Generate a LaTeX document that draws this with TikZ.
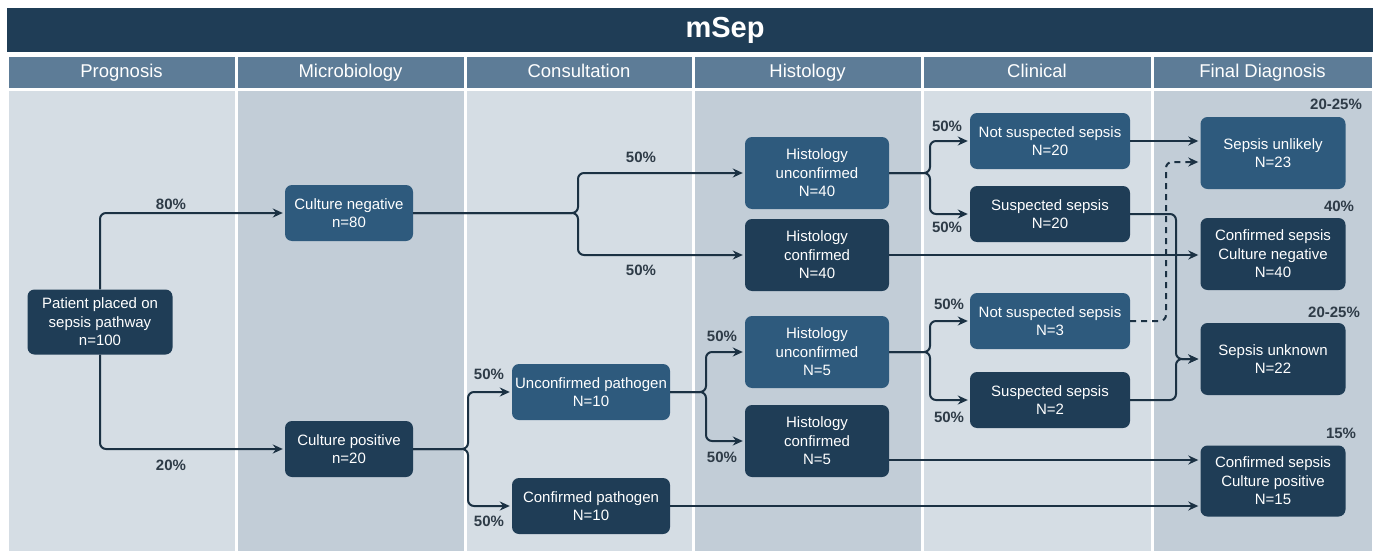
\documentclass[tikz,border=0pt]{standalone}
\usepackage{fontspec}
\setmainfont{Liberation Sans}
\usetikzlibrary{arrows.meta}
\definecolor{navy}{HTML}{1F3D56}
\definecolor{midblue}{HTML}{2E5A7D}
\definecolor{hdr}{HTML}{5D7C97}
\definecolor{bglight}{HTML}{D5DDE4}
\definecolor{bgdark}{HTML}{C2CDD7}
\definecolor{linec}{HTML}{1B3143}
\definecolor{pct}{HTML}{2E3B47}
\begin{document}
\begin{tikzpicture}[x=1pt,y=-1pt,
  box/.style={rounded corners=7pt, align=center, text=white, font=\fontsize{15}{18.5}\selectfont, inner sep=0pt},
  dbox/.style={box, fill=navy},
  mbox/.style={box, fill=midblue},
  clin/.style={minimum width=160pt, minimum height=56pt},
  hist/.style={minimum width=144pt, minimum height=72pt},
  fin/.style={minimum width=145pt, minimum height=72pt},
  arr/.style={draw=linec, line width=2pt, rounded corners=6pt, shorten >=2pt, -{Stealth[length=10pt,width=9pt]}},
  pctl/.style={text=pct, font=\bfseries\fontsize{15}{18}\selectfont, inner sep=0pt},
  colhead/.style={text=white, font=\fontsize{18.5}{22}\selectfont, inner sep=0pt, text height=13.5pt, text depth=4pt},
]
\useasboundingbox (0,0) rectangle (1384,551);
\fill[white] (0,0) rectangle (1384,551);
% title bar
\fill[navy] (7,8) rectangle (1373,52);
\node[text=white, font=\bfseries\fontsize{29}{34}\selectfont, inner sep=0pt] (title) at (725,30) {mSep};
% header cells and column bodies
\foreach \xa/\xb/\bg in {7/236/bglight, 236/465/bgdark, 465/693/bglight, 693/922/bgdark, 922/1152/bglight, 1152/1373/bgdark}{
  \fill[hdr] (\xa+1.5,57) rectangle (\xb-1.5,88);
  \fill[\bg] (\xa+1.5,91) rectangle (\xb-1.5,551);
}
\node[colhead] (h1) at (121.5,73) {Prognosis};
\node[colhead] (h2) at (350.5,73) {Microbiology};
\node[colhead] (h3) at (579,73) {Consultation};
\node[colhead] (h4) at (807.5,73) {Histology};
\node[colhead] (h5) at (1037,73) {Clinical};
\node[colhead] (h6) at (1262.5,73) {Final Diagnosis};

% nodes
\node[dbox, minimum width=145pt, minimum height=65pt] (patient) at (100,322) {Patient placed on\\sepsis pathway\\n=100};
\node[mbox, minimum width=128pt, minimum height=56pt] (cneg) at (349,213) {Culture negative\\n=80};
\node[dbox, minimum width=128pt, minimum height=56pt] (cpos) at (349,449) {Culture positive\\n=20};
\node[mbox, minimum width=158pt, minimum height=56pt] (upath) at (591,392) {Unconfirmed pathogen\\N=10};
\node[dbox, minimum width=158pt, minimum height=56pt] (cpath) at (591,506) {Confirmed pathogen\\N=10};
\node[mbox, hist] (hu40) at (817,173) {Histology\\unconfirmed\\N=40};
\node[dbox, hist] (hc40) at (817,255) {Histology\\confirmed\\N=40};
\node[mbox, hist] (hu5) at (817,352) {Histology\\unconfirmed\\N=5};
\node[dbox, hist] (hc5) at (817,441) {Histology\\confirmed\\N=5};
\node[mbox, clin] (ns20) at (1050,141) {Not suspected sepsis\\N=20};
\node[dbox, clin] (s20) at (1050,214) {Suspected sepsis\\N=20};
\node[mbox, clin] (ns3) at (1050,321) {Not suspected sepsis\\N=3};
\node[dbox, clin] (s2) at (1050,400) {Suspected sepsis\\N=2};
\node[mbox, fin] (sunl) at (1273,153) {Sepsis unlikely\\N=23};
\node[dbox, fin] (csneg) at (1273,254) {Confirmed sepsis\\Culture negative\\N=40};
\node[dbox, fin] (sunk) at (1273,359) {Sepsis unknown\\N=22};
\node[dbox, fin, minimum height=71pt] (cspos) at (1273,481) {Confirmed sepsis\\Culture positive\\N=15};

% percentages
\node[pctl] (p80) at (171,204) {80\%};
\node[pctl] (p20) at (171,465) {20\%};
\node[pctl] (p50a) at (641,157) {50\%};
\node[pctl] (p50b) at (641,270) {50\%};
\node[pctl] (p50c) at (489,374) {50\%};
\node[pctl] (p50d) at (489,521) {50\%};
\node[pctl] (p50e) at (722,336) {50\%};
\node[pctl] (p50f) at (722,457) {50\%};
\node[pctl] (p50g) at (947,126) {50\%};
\node[pctl] (p50h) at (947,227) {50\%};
\node[pctl] (p50i) at (949,304) {50\%};
\node[pctl] (p50j) at (949,417) {50\%};
\node[pctl] (q1) at (1336,104) {20-25\%};
\node[pctl] (q2) at (1339,206) {40\%};
\node[pctl] (q3) at (1334,312) {20-25\%};
\node[pctl] (q4) at (1341,433) {15\%};

% fork points
\coordinate (f1) at (578,213);
\coordinate (f2) at (468,449);
\coordinate (f3) at (706,392);
\coordinate (f4) at (930,173);
\coordinate (f5) at (930,352);
\coordinate (m1) at (1176,359);
\coordinate (d1) at (1166,162);

% connectors
\draw[arr] (patient.north) |- (cneg.west);
\draw[arr] (patient.south) |- (cpos.west);
\draw[arr] (cneg.east) -- (f1) |- (hu40.west);
\draw[arr] (cneg.east) -- (f1) |- (hc40.west);
\draw[arr] (cpos.east) -- (f2) |- (upath.west);
\draw[arr] (cpos.east) -- (f2) |- (cpath.west);
\draw[arr] (upath.east) -- (f3) |- (hu5.west);
\draw[arr] (upath.east) -- (f3) |- (hc5.west);
\draw[arr] (hu40.east) -- (f4) |- (ns20.west);
\draw[arr] (hu40.east) -- (f4) |- (s20.west);
\draw[arr] (hu5.east) -- (f5) |- (ns3.west);
\draw[arr] (hu5.east) -- (f5) |- (s2.west);
\draw[arr] (ns20.east) -- (ns20.east -| sunl.west);
\draw[arr] (hc40.east) -- (hc40.east -| csneg.west);
\draw[arr] (s20.east) -| (m1) -- (sunk.west);
\draw[arr] (s2.east) -| (m1) -- (sunk.west);
\draw[arr, dash pattern=on 6pt off 5pt] (ns3.east) -| (d1) -- (d1 -| sunl.west);
\draw[arr] ([yshift=-19pt]hc5.east) -- ([yshift=-19pt]hc5.east -| cspos.west);
\draw[arr] (cpath.east) -- (cpath.east -| cspos.west);
\end{tikzpicture}
\end{document}
